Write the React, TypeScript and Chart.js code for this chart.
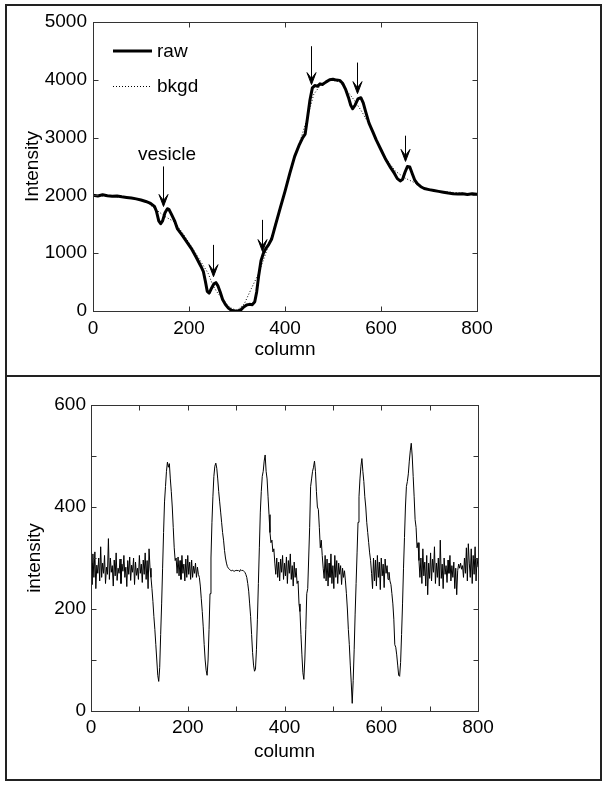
import React, { useEffect, useRef } from 'react';
import { Chart, registerables } from 'chart.js';

Chart.register(...registerables);

const FONT = "'Liberation Sans', Arial, Helvetica, sans-serif";

// ---------------- Top panel data ----------------
const rawColumns = [
  0, 10, 20, 30, 40, 50, 60, 70, 80, 90, 100, 110, 120, 128, 132, 137, 141, 145, 150, 155,
  158, 163, 170, 176, 185, 195, 205, 215, 225, 230, 234, 238, 242, 246, 252, 256, 260, 265, 270, 276,
  282, 288, 295, 302, 308, 314, 320, 326, 332, 337, 341, 345, 350, 355, 360, 366, 372, 380, 390, 400,
  410, 420, 430, 437, 442, 447, 452, 457, 462, 468, 473, 478, 485, 493, 500, 507, 514, 520, 526, 532,
  537, 541, 546, 552, 558, 563, 568, 575, 583, 590, 600, 610, 620, 628, 634, 640, 645, 650, 655, 660,
  665, 670, 676, 683, 690, 700, 710, 720, 730, 740, 750, 760, 770, 780, 790, 800,
];
const rawIntensity = [
  2005, 1990, 2010, 1995, 1985, 1990, 1975, 1965, 1955, 1940, 1920, 1895, 1860, 1810, 1730, 1560, 1510, 1560, 1700, 1770,
  1760, 1680, 1560, 1420, 1320, 1200, 1080, 930, 770, 680, 520, 340, 310, 380, 470, 490, 440, 330, 200, 110,
  50, 15, 0, 0, 20, 70, 105, 115, 110, 160, 330, 600, 870, 1000, 1080, 1150, 1240, 1480, 1780, 2070,
  2380, 2670, 2880, 3000, 3060, 3350, 3650, 3860, 3900, 3890, 3930, 3920, 3960, 4000, 4010, 3995, 3990, 3940, 3840, 3700,
  3560, 3500, 3560, 3670, 3690, 3600, 3450, 3250, 3100, 2960, 2790, 2620, 2480, 2380, 2290, 2250, 2280, 2400, 2500, 2490,
  2380, 2270, 2200, 2150, 2120, 2100, 2085, 2070, 2055, 2040, 2030, 2025, 2030, 2015, 2030, 2020,
];
const bkgdColumns = [
  0, 40, 80, 110, 132, 150, 170, 190, 210, 240, 250, 258, 272, 285, 300, 315, 330, 345, 360, 375,
  390, 410, 430, 445, 460, 475, 495, 515, 530, 545, 560, 575, 590, 610, 630, 650, 670, 690, 720, 800,
];
const bkgdIntensity = [
  2000, 1985, 1950, 1900, 1750, 1634, 1540, 1310, 1050, 650, 440, 330, 190, 60, 10, 120, 390, 650, 1000, 1380,
  1800, 2380, 2900, 3300, 3750, 3920, 4000, 3960, 3800, 3640, 3450, 3230, 2980, 2640, 2420, 2300, 2220, 2130, 2070, 2020,
];
const topXTicks = [0, 200, 400, 600, 800];
const topYTicks = [0, 1000, 2000, 3000, 4000, 5000];
const legendLabels = ['raw', 'bkgd'];
const arrowColumns = [145, 250, 352, 454, 550, 651];
const arrowTails = [2501, 1144, 1577, 4581, 4298, 3033];
const arrowHeads = [1808, 594, 1028, 3917, 3761, 2588];
const vesicleText = 'vesicle';
const vesicleColumn = 154;
const vesicleIntensity = 2707;

// ---------------- Bottom panel data (one value every 2 columns, 0..800) ----------------
const diffStep = 2;
const diffIntensity = [
  // 0-122
  290, 248, 308, 262, 312, 240, 286, 270, 300, 255,
  322, 262, 290, 270, 305, 250, 282, 268, 338, 258,
  300, 272, 285, 245, 296, 265, 310, 256, 280, 270,
  298, 250, 288, 274, 305, 262, 282, 244, 295, 268,
  302, 256, 286, 272, 300, 248, 292, 266, 280, 258,
  305, 270, 288, 252, 296, 268, 310, 258, 295, 240,
  318, 280,
  // 124-176
  262, 240, 215, 185, 160, 130, 100, 70, 58, 85, 150, 210, 280, 350, 410, 440, 470, 488, 478, 485,
  455, 430, 400, 360, 320, 295, 300,
  // 178-224
  270, 302, 265, 295, 258, 305, 270, 288, 255, 298, 262, 305, 268, 292, 258, 296, 262, 284, 270, 290,
  262, 282, 268, 262,
  // 226-290
  245, 220, 195, 165, 130, 100, 80, 70, 100, 160, 230, 300, 370, 420, 460, 480, 486, 476, 455, 430,
  410, 390, 370, 350, 335, 315, 300, 290, 283, 280, 278, 276, 275,
  // 292-322
  276, 275, 274, 275, 276, 275, 276, 274, 276, 277, 275, 276, 274, 272, 268, 262,
  // 324-378
  250, 235, 210, 185, 150, 115, 90, 78, 82, 120, 180, 250, 320, 390, 430, 460, 470, 490, 502, 470,
  455, 420, 385, 350, 330, 335, 312, 318,
  // 380-426
  290, 268, 300, 262, 292, 255, 298, 272, 305, 258, 290, 265, 302, 250, 295, 270, 308, 258, 285, 245,
  292, 262, 280, 250,
  // 428-478
  255, 210, 195, 150, 110, 75, 62, 100, 160, 230, 240, 300, 360, 440, 455, 470, 478, 490, 470, 430,
  400, 395, 360, 320, 335, 305,
  // 480-526
  280, 260, 305, 255, 298, 245, 290, 262, 308, 250, 285, 240, 305, 262, 295, 250, 290, 268, 285, 248,
  280, 262, 275, 255,
  // 528-578
  230, 200, 160, 130, 90, 55, 15, 60, 120, 190, 250, 310, 370, 420, 455, 480, 495, 470, 450, 420,
  400, 370, 350, 330, 310, 295,
  // 580-620
  270, 240, 300, 255, 296, 245, 305, 262, 292, 238, 300, 265, 288, 242, 298, 270, 285, 258, 272, 255,
  248,
  // 622-676
  230, 210, 180, 130, 125, 110, 90, 70, 68, 95, 150, 210, 280, 340, 400, 440, 450, 465, 490, 510,
  525, 500, 460, 420, 375, 360, 320, 330,
  // 678-800
  295, 262, 300, 250, 318, 265, 292, 245, 305, 228, 290, 260,
  310, 255, 298, 272, 322, 250, 290, 262, 300, 245,
  335, 260, 288, 240, 300, 268, 285, 252, 296, 270,
  305, 255, 285, 262, 292, 240, 280, 228, 275, 288,
  280, 290, 278, 285, 262, 300, 270, 320, 255, 328,
  290, 262, 318, 250, 305, 268, 322, 255, 300, 282,
];
const bottomXTicks = [0, 100, 200, 300, 400, 500, 600, 700, 800];
const bottomYTicks = [0, 100, 200, 300, 400, 500, 600];

// ---------------- Plugins ----------------
function makeBoxPlugin(xTicks: number[], yTicks: number[]) {
  return {
    id: 'matlabBox',
    afterDatasetsDraw(chart: any) {
      const { ctx, chartArea: a, scales } = chart;
      const L = Math.round(a.left) + 0.5;
      const R = Math.round(a.right) + 0.5;
      const T = Math.round(a.top) + 0.5;
      const B = Math.round(a.bottom) + 0.5;
      ctx.save();
      ctx.strokeStyle = '#333';
      ctx.lineWidth = 1;
      ctx.strokeRect(L, T, R - L, B - T);
      const tl = 5;
      ctx.beginPath();
      xTicks.forEach((v) => {
        const px = Math.round(scales.x.getPixelForValue(v)) + 0.5;
        ctx.moveTo(px, B);
        ctx.lineTo(px, B - tl);
        ctx.moveTo(px, T);
        ctx.lineTo(px, T + tl);
      });
      yTicks.forEach((v) => {
        const py = Math.round(scales.y.getPixelForValue(v)) + 0.5;
        ctx.moveTo(L, py);
        ctx.lineTo(L + tl, py);
        ctx.moveTo(R, py);
        ctx.lineTo(R - tl, py);
      });
      ctx.stroke();
      ctx.restore();
    },
  };
}

const topAnnotationPlugin = {
  id: 'topAnnotations',
  afterDatasetsDraw(chart: any) {
    const { ctx, chartArea: a, scales } = chart;
    ctx.save();
    ctx.fillStyle = '#000';
    ctx.strokeStyle = '#000';
    ctx.font = `19px ${FONT}`;
    ctx.textBaseline = 'middle';
    ctx.textAlign = 'left';

    // legend
    const lx0 = a.left + 20;
    const lx1 = a.left + 59;
    const ly0 = a.top + 29;
    const ly1 = a.top + 64;
    ctx.lineWidth = 3;
    ctx.setLineDash([]);
    ctx.beginPath();
    ctx.moveTo(lx0, ly0);
    ctx.lineTo(lx1, ly0);
    ctx.stroke();
    ctx.lineWidth = 1;
    ctx.setLineDash([1, 2]);
    ctx.beginPath();
    ctx.moveTo(lx0, ly1 + 0.5);
    ctx.lineTo(lx1, ly1 + 0.5);
    ctx.stroke();
    ctx.setLineDash([]);
    ctx.fillText(legendLabels[0], a.left + 64, ly0 + 1);
    ctx.fillText(legendLabels[1], a.left + 64, ly1 + 1);

    // vesicle label
    ctx.textAlign = 'center';
    ctx.fillText(vesicleText, scales.x.getPixelForValue(vesicleColumn), scales.y.getPixelForValue(vesicleIntensity));

    // arrows
    arrowColumns.forEach((c, i) => {
      const x = Math.round(scales.x.getPixelForValue(c)) + 0.5;
      const yT = scales.y.getPixelForValue(arrowTails[i]);
      const yH = scales.y.getPixelForValue(arrowHeads[i]);
      ctx.lineWidth = 1;
      ctx.beginPath();
      ctx.moveTo(x, yT);
      ctx.lineTo(x, yH - 4);
      ctx.stroke();
      ctx.beginPath();
      ctx.moveTo(x, yH);
      ctx.lineTo(x - 4.5, yH - 12);
      ctx.lineTo(x, yH - 6);
      ctx.lineTo(x + 4.5, yH - 12);
      ctx.closePath();
      ctx.fill();
      ctx.lineWidth = 1;
      ctx.stroke();
    });
    ctx.restore();
  },
};

function axisFont() {
  return { family: FONT, size: 19 };
}

const plainLabel = (v: any) => String(v);

function TopChart() {
  const ref = useRef<HTMLCanvasElement>(null);
  useEffect(() => {
    const chart = new Chart(ref.current as HTMLCanvasElement, {
      type: 'line',
      data: {
        datasets: [
          {
            label: legendLabels[0],
            data: rawColumns.map((c, i) => ({ x: c, y: rawIntensity[i] })),
            borderColor: '#000',
            borderWidth: 3,
            pointRadius: 0,
            tension: 0,
            borderJoinStyle: 'round',
            borderCapStyle: 'round',
          },
          {
            label: legendLabels[1],
            data: bkgdColumns.map((c, i) => ({ x: c, y: bkgdIntensity[i] })),
            borderColor: '#000',
            borderWidth: 1,
            borderDash: [1, 2],
            pointRadius: 0,
            tension: 0,
          },
        ],
      },
      options: {
        responsive: false,
        maintainAspectRatio: false,
        animation: false,
        layout: { padding: { top: 22, right: 132, left: 0, bottom: 0 } },
        plugins: { legend: { display: false }, tooltip: { enabled: false } },
        scales: {
          x: {
            type: 'linear',
            min: 0,
            max: 800,
            ticks: { stepSize: 200, padding: 6, color: '#000', font: axisFont(), maxRotation: 0, autoSkip: false, callback: plainLabel },
            grid: { display: false, drawTicks: false },
            border: { display: false },
            title: { display: true, text: 'column', color: '#000', font: axisFont(), padding: { top: 0, bottom: 15 } },
            afterFit: (s: any) => { s.height = 65; },
          },
          y: {
            type: 'linear',
            min: 0,
            max: 5000,
            ticks: { stepSize: 1000, padding: 6, color: '#000', font: axisFont(), callback: plainLabel },
            grid: { display: false, drawTicks: false },
            border: { display: false },
            title: { display: true, text: 'Intensity', color: '#000', font: axisFont(), padding: { top: 21, bottom: 0 } },
            afterFit: (s: any) => { s.width = 93; },
          },
        },
      } as any,
      plugins: [makeBoxPlugin(topXTicks, topYTicks), topAnnotationPlugin],
    });
    return () => chart.destroy();
  }, []);
  return <canvas ref={ref} width={609} height={376} style={{ position: 'absolute', left: 0, top: 0 }} />;
}

function BottomChart() {
  const ref = useRef<HTMLCanvasElement>(null);
  useEffect(() => {
    const chart = new Chart(ref.current as HTMLCanvasElement, {
      type: 'line',
      data: {
        datasets: [
          {
            label: 'intensity',
            data: diffIntensity.map((v, i) => ({ x: i * diffStep, y: v })),
            borderColor: '#000',
            borderWidth: 1,
            pointRadius: 0,
            tension: 0,
          },
        ],
      },
      options: {
        responsive: false,
        maintainAspectRatio: false,
        animation: false,
        layout: { padding: { top: 29, right: 131, left: 0, bottom: 0 } },
        plugins: { legend: { display: false }, tooltip: { enabled: false } },
        scales: {
          x: {
            type: 'linear',
            min: 0,
            max: 800,
            ticks: {
              stepSize: 100,
              padding: 5,
              color: '#000',
              font: axisFont(),
              maxRotation: 0,
              autoSkip: false,
              callback: (v: any) => (Number(v) % 200 === 0 ? String(v) : ''),
            },
            grid: { display: false, drawTicks: false },
            border: { display: false },
            title: { display: true, text: 'column', color: '#000', font: axisFont(), padding: { top: 0, bottom: 17 } },
            afterFit: (s: any) => { s.height = 69; },
          },
          y: {
            type: 'linear',
            min: 0,
            max: 600,
            ticks: {
              stepSize: 100,
              padding: 5,
              color: '#000',
              font: axisFont(),
              callback: (v: any) => (Number(v) % 200 === 0 ? String(v) : ''),
            },
            grid: { display: false, drawTicks: false },
            border: { display: false },
            title: { display: true, text: 'intensity', color: '#000', font: axisFont(), padding: { top: 23, bottom: 0 } },
            afterFit: (s: any) => { s.width = 91; },
          },
        },
      } as any,
      plugins: [makeBoxPlugin(bottomXTicks, bottomYTicks)],
    });
    return () => chart.destroy();
  }, []);
  return <canvas ref={ref} width={609} height={404} style={{ position: 'absolute', left: 0, top: 376 }} />;
}

export default function App() {
  return (
    <div style={{ position: 'absolute', left: 0, top: 0, width: 609, height: 787, background: '#fff', overflow: 'hidden' }}>
      <TopChart />
      <BottomChart />
      <div
        style={{
          position: 'absolute',
          left: 5,
          top: 4,
          width: 597,
          height: 777,
          boxSizing: 'border-box',
          border: '2px solid #222',
          pointerEvents: 'none',
        }}
      />
      <div style={{ position: 'absolute', left: 5, top: 375, width: 597, height: 2, background: '#222', pointerEvents: 'none' }} />
    </div>
  );
}
